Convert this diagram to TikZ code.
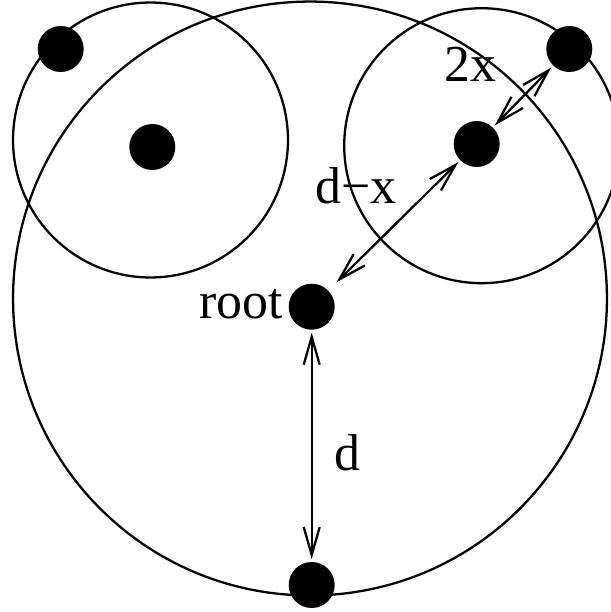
\documentclass[tikz,border=0pt]{standalone}
\usepackage{fontspec}
\setmainfont{Liberation Serif}
\usetikzlibrary{arrows.meta}
\tikzset{
  dot/.style={circle,fill,minimum size=0.92cm,inner sep=0pt},
  lbl/.style={inner sep=0pt,font=\fontsize{29.5}{34}\selectfont},
  dist/.style={<->,shorten <=1pt,shorten >=1pt}
}

\begin{document}
\begin{tikzpicture}[x=0.02cm,y=-0.02cm,line width=1.3pt,
    >={Straight Barb[length=5.6mm,width=3.2mm]}]
  \useasboundingbox (0,0) rectangle (611,612);
  \draw (310,298.5) circle[radius=5.94cm];
  \draw (150.5,140) circle[radius=2.75cm];
  \draw (481.7,145.7) circle[radius=2.75cm];

  \node[dot] (root) at (311.7,306.7) {};
  \node[dot] (bot) at (311.7,585) {};
  \node[dot] (l1) at (60.7,49) {};
  \node[dot] (l2) at (152.3,147) {};
  \node[dot] (r1) at (569.3,49) {};
  \node[dot] (r2) at (476.7,144) {};

  \draw[dist] (root) -- (bot);
  \draw[dist,shorten <=6pt] (root) -- (r2);
  \draw[dist] (r2) -- (r1);

  \node[lbl,anchor=base east] (troot) at (284,318) {root};
  \node[lbl,anchor=base west] (td) at (333,470) {d};
  \node[lbl,anchor=base west] (tdx) at (314,203.3) {d−x};
  \node[lbl,anchor=base west] (t2x) at (443,81.7) {2x};
\end{tikzpicture}
\end{document}
